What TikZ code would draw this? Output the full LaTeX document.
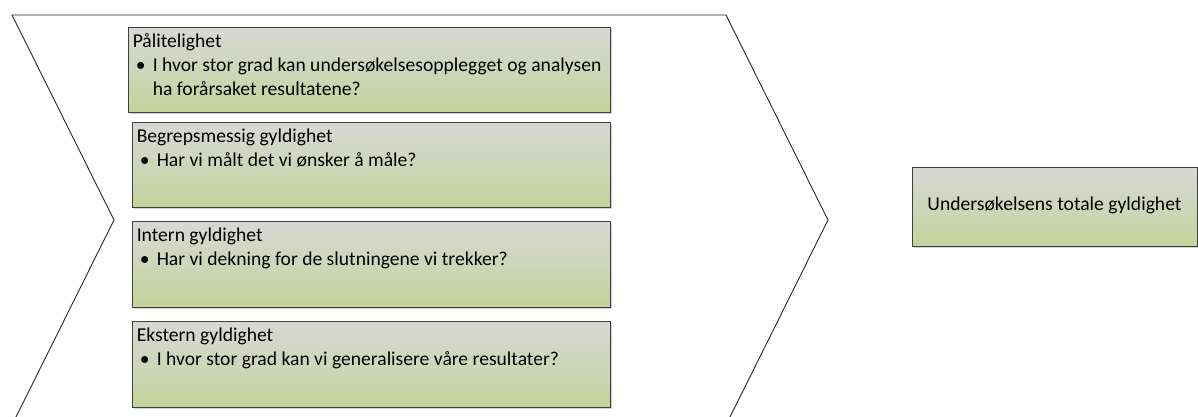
\documentclass[tikz,border=0pt]{standalone}
\usepackage{fontspec}
\setmainfont{Carlito}
\usetikzlibrary{calc,shadows}
\definecolor{boxtop}{HTML}{D8D8D4}
\definecolor{boxbot}{HTML}{C3D39A}
\definecolor{boxline}{HTML}{404040}
\tikzset{
  gbox/.style={draw=boxline, line width=0.9pt, top color=boxtop, bottom color=boxbot,
    middle color=boxtop!55!boxbot, rectangle, inner sep=0pt,
    general shadow={fill=black!18, shadow xshift=2pt, shadow yshift=-2pt}},
  txt/.style={anchor=base west, inner sep=0pt, font=\fontsize{19.6}{25}\selectfont},
  chev/.style={draw=black!85, line width=0.9pt, line join=miter}
}
\begin{document}
\begin{tikzpicture}[x=1pt, y=-1pt]
\useasboundingbox (0,0) rectangle (1198,416);
\clip (0,0) rectangle (1198,416);
% chevron outline
\coordinate (c1) at (12,15);
\coordinate (c2) at (726,15);
\coordinate (c3) at (828,220);
\coordinate (c4) at (726,425);
\coordinate (c5) at (12,425);
\coordinate (c6) at (114,220);
\draw[chev] (c1) -- (c2) -- (c3) -- (c4) -- (c5) -- (c6) -- cycle;

% factor boxes
\node[gbox, minimum width=482pt, minimum height=85pt] (b1) at (369,69.5) {};
\node[gbox, minimum width=478pt, minimum height=85pt] (b2) at (371,164.5) {};
\node[gbox, minimum width=478pt, minimum height=86pt] (b3) at (371,264) {};
\node[gbox, minimum width=478pt, minimum height=86pt] (b4) at (371,364) {};
\node[gbox, minimum width=285pt, minimum height=79pt] (res) at (1054.5,206.5) {};

% box texts
\node[txt] (t1) at ($(b1.north west)+(5,21)$) {Pålitelighet};
\node[txt] (t1a) at ($(b1.north west)+(8,45)$) {\textbullet};
\node[txt] (t1b) at ($(b1.north west)+(25,45)$) {I hvor stor grad kan undersøkelsesopplegget og analysen};
\node[txt] (t1c) at ($(b1.north west)+(25,69)$) {ha forårsaket resultatene?};

\node[txt] (t2) at ($(b2.north west)+(5,21)$) {Begrepsmessig gyldighet};
\node[txt] (t2a) at ($(b2.north west)+(8,45)$) {\textbullet};
\node[txt] (t2b) at ($(b2.north west)+(25,45)$) {Har vi målt det vi ønsker å måle?};

\node[txt] (t3) at ($(b3.north west)+(5,21)$) {Intern gyldighet};
\node[txt] (t3a) at ($(b3.north west)+(8,45)$) {\textbullet};
\node[txt] (t3b) at ($(b3.north west)+(25,45)$) {Har vi dekning for de slutningene vi trekker?};

\node[txt] (t4) at ($(b4.north west)+(5,21)$) {Ekstern gyldighet};
\node[txt] (t4a) at ($(b4.north west)+(8,45)$) {\textbullet};
\node[txt] (t4b) at ($(b4.north west)+(25,45)$) {I hvor stor grad kan vi generalisere våre resultater?};

\node[txt, anchor=center, yshift=1pt] (tr) at (res.center) {Undersøkelsens totale gyldighet};
\end{tikzpicture}
\end{document}
